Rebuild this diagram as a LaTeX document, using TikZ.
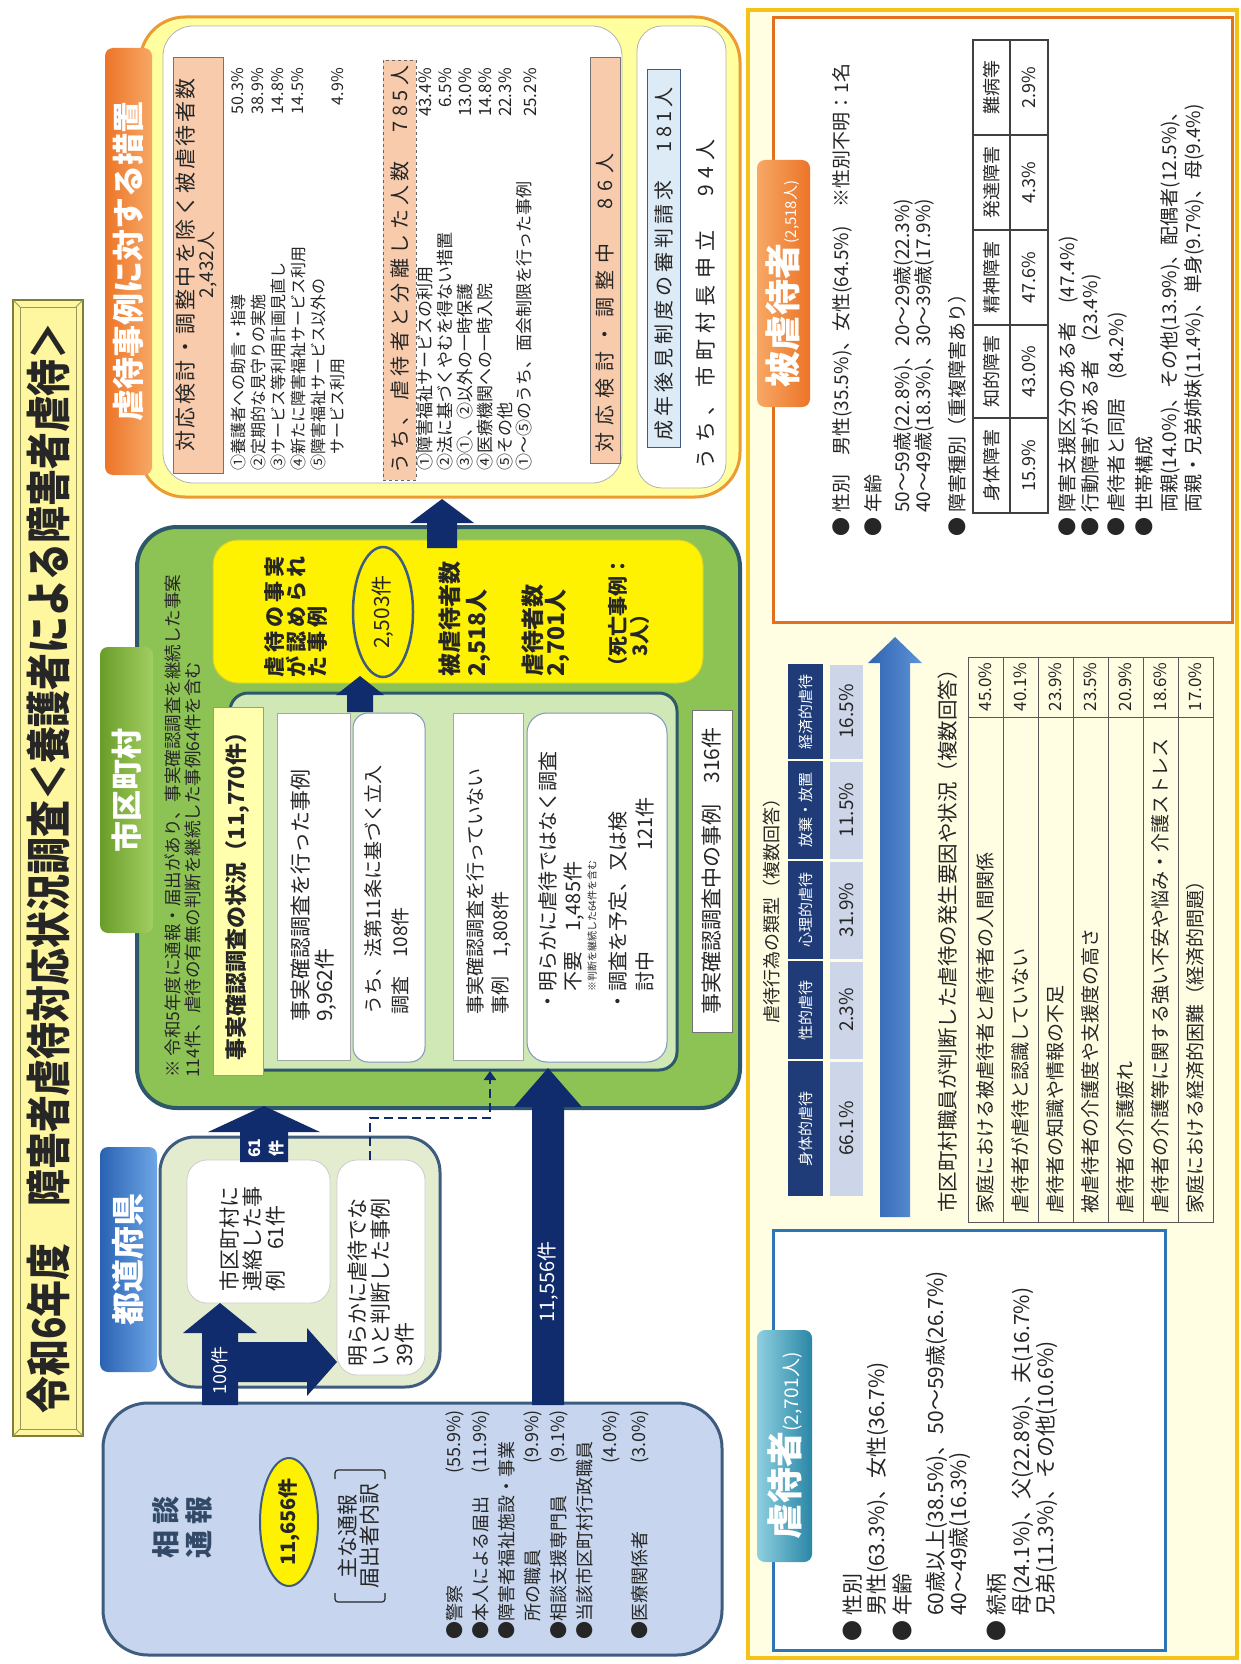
\documentclass[tikz,border=0pt]{standalone}
\usepackage{fontspec}
\setmainfont{Noto Sans CJK JP}
\newfontfamily\cond{Noto Sans CJK JP}[FakeStretch=0.82]
\usetikzlibrary{shapes.geometric,arrows.meta}
\newcommand\fsz[2]{\fontsize{#1}{#2}\selectfont}
\newcommand\lsp[1]{\addfontfeatures{LetterSpace=#1}}
\newcommand\bul{●\hspace{5pt}}
\lineskiplimit=-100pt
\definecolor{ttlfill}{HTML}{FFF6A0}
\definecolor{ttlline}{HTML}{7E7E36}
\definecolor{bluefill}{HTML}{C7D6EE}
\definecolor{boxline}{HTML}{3E5C80}
\definecolor{preffill}{HTML}{E4ECD0}
\definecolor{navy}{HTML}{102C6C}
\definecolor{cityfill}{HTML}{8DC354}
\definecolor{cityline}{HTML}{2D586C}
\definecolor{panelfill}{HTML}{D0E7B6}
\definecolor{salmon}{HTML}{F8CBAD}
\definecolor{lightblue}{HTML}{DDEBF7}
\definecolor{sochiline}{HTML}{EB9B30}
\definecolor{sochifill}{HTML}{FFFFA0}
\definecolor{rpfill}{HTML}{FFFDE2}
\definecolor{rpline}{HTML}{F5C21A}
\definecolor{hiline}{HTML}{E3701E}
\definecolor{gyline}{HTML}{2E75B6}
\definecolor{thead}{HTML}{1F3C78}
\definecolor{tdata}{HTML}{CDD5E8}
\definecolor{txt}{HTML}{262626}
\definecolor{wbline}{HTML}{8095C0}
\definecolor{orL}{HTML}{EC7428}
\definecolor{orR}{HTML}{F7A865}
\definecolor{blL}{HTML}{2A62B3}
\definecolor{blR}{HTML}{6EA6E6}
\definecolor{grL}{HTML}{6A9C2A}
\definecolor{grR}{HTML}{A2CF62}
\definecolor{tlL}{HTML}{8ED0E0}
\definecolor{tlR}{HTML}{2A86A6}
\definecolor{arL}{HTML}{2F63B0}
\definecolor{arR}{HTML}{5E93D8}
\definecolor{jlfill}{HTML}{FFFFAE}
\definecolor{ybline}{HTML}{D0D030}
\newcommand\mybox[6]{%
  \pgfmathsetmacro\mbw{#5-(#3)}\pgfmathsetmacro\mbh{#6-(#4)}%
  \node[#1,minimum width=\mbw pt,minimum height=\mbh pt,inner sep=0pt,outer sep=0pt] (#2) at ({(#3+#5)/2},{(#4+#6)/2}) {};}
\begin{document}
\begin{tikzpicture}[x=1pt,y=-1pt,
  every node/.style={text=txt},
  rt/.style={rotate=90,inner sep=0pt},
  wb/.style={rt,anchor=west},
  eb/.style={rt,anchor=east},
  sl/.style={font=\fsz{18}{18}},
  lone/.style={font=\fsz{16}{16}},
  ltwo/.style={font=\fsz{17}{17}},
  hb/.style={font=\fsz{19}{19}},
  gb/.style={font=\fsz{21}{21}},
  ft/.style={font=\fsz{19}{19}}]
\useasboundingbox (0,0) rectangle (1241,1664);
\fill[white] (0,0) rectangle (1241,1664);

% ---------------- title
\mybox{fill=ttlfill,draw=ttlline,line width=2pt}{titlebox}{13}{300}{83}{1436}
\draw[ttlline!80,line width=1pt] (20,307) rectangle (76,1429);
\draw[ttlline!80,line width=0.8pt] (13,300)--(20,307) (83,300)--(76,307) (13,1436)--(20,1429) (83,1436)--(76,1429);
\node[rt,font=\cond\bfseries\fsz{45}{45}] (title) at (48,868) {令和6年度　障害者虐待対応状況調査＜養護者による障害者虐待＞};

% ---------------- right panel
\mybox{fill=rpfill,draw=rpline,line width=4pt}{rpanel}{748}{10}{1237}{1658}

% ---------------- measures frame
\mybox{fill=sochifill,draw=sochiline,line width=3pt,rounded corners=45pt}{sochi}{140}{17}{740}{497}
\mybox{fill=white,draw=black!30,line width=0.8pt,rounded corners=30pt}{sochiA}{163}{26}{622}{483}
\mybox{fill=white,draw=black!30,line width=0.8pt,rounded corners=25pt}{sochiB}{637}{26}{726}{488}
\mybox{left color=orL,right color=orR,rounded corners=8pt}{sochilbl}{105}{48}{152}{475}
\node[rt,text=white,font=\bfseries\fsz{32}{32}] (sochitxt) at (sochilbl) {虐待事例に対する措置};

\mybox{fill=salmon,draw=black!55,line width=0.8pt}{hdr1}{173}{57}{223}{473}
\node[rt,font=\fsz{21}{21}\lsp{12}] (hdr1a) at (186,265) {対応検討・調整中を除く被虐待者数};
\node[rt,font=\fsz{19}{19}] (hdr1b) at (208,265) {2,432人};

\node[wb,lone] (m1) at (238,471) {①養護者への助言・指導};
\node[eb,lone] (p1) at (238,68) {50.3\%};
\node[wb,lone] (m2) at (258,471) {②定期的な見守りの実施};
\node[eb,lone] (p2) at (258,68) {38.9\%};
\node[wb,lone] (m3) at (278,471) {③サービス等利用計画見直し};
\node[eb,lone] (p3) at (278,68) {14.8\%};
\node[wb,lone] (m4) at (298,471) {④新たに障害福祉サービス利用};
\node[eb,lone] (p4) at (298,68) {14.5\%};
\node[wb,lone] (m5) at (318,471) {⑤障害福祉サービス以外の};
\node[wb,lone] (m6) at (338,471) {　サービス利用};
\node[eb,lone] (p6) at (338,68) {4.9\%};

\mybox{fill=salmon,draw=black!60,dashed,line width=0.8pt}{bunri}{383}{60}{416}{480}
\node[wb,font=\fsz{20}{20}\lsp{22}] (bunritxt) at (399.5,474) {うち、虐待者と分離した人数　785人};

\node[wb,ltwo] (n1) at (425,471) {①障害福祉サービスの利用};
\node[eb,ltwo] (q1) at (425,68) {43.4\%};
\node[wb,ltwo] (n2) at (445,471) {②法に基づくやむを得ない措置};
\node[eb,ltwo] (q2) at (445,68) {6.5\%};
\node[wb,ltwo] (n3) at (465,471) {③①、②以外の一時保護};
\node[eb,ltwo] (q3) at (465,68) {13.0\%};
\node[wb,ltwo] (n4) at (485,471) {④医療機関への一時入院};
\node[eb,ltwo] (q4) at (485,68) {14.8\%};
\node[wb,ltwo] (n5) at (505,471) {⑤その他};
\node[eb,ltwo] (q5) at (505,68) {22.3\%};
\node[wb,ltwo] (n6) at (524,471) {①〜⑤のうち、面会制限を行った事例};
\node[eb,ltwo] (q6) at (530,68) {25.2\%};

\mybox{fill=salmon,draw=black!55,line width=0.8pt}{chosei}{590}{57}{620}{463}
\node[wb,font=\fsz{20}{20}\lsp{35}] (choseitxt) at (605,453) {対応検討・調整中　86人};

\mybox{fill=lightblue,draw=boxline,line width=1pt}{kouken}{647}{70}{680}{447}
\node[wb,font=\fsz{20}{20}\lsp{20}] (koukentxt) at (663.5,441) {成年後見制度の審判請求　181人};
\node[wb,font=\fsz{21}{21}\lsp{30}] (moushitate) at (705,470) {うち、市町村長申立　94人};

% ---------------- municipality box
\mybox{fill=cityfill,draw=cityline,line width=4pt,rounded corners=40pt}{city}{137}{527}{740}{1108}
\mybox{left color=grL,right color=grR,rounded corners=8pt}{citylbl}{100}{647}{153}{933}
\node[rt,text=white,font=\bfseries\fsz{31}{31}] (citytxt) at (citylbl) {市区町村};
\node[rt,anchor=north west,align=left,font=\fsz{17.5}{20}] (note) at (164,1078) {※ 令和5年度に通報・届出があり、事実確認調査を継続した事案\\114件、虐待の有無の判断を継続した事例64件を含む};

\mybox{fill=panelfill,draw=cityline,line width=3pt,rounded corners=18pt}{inner}{230}{693}{677}{1070}
\mybox{fill=jlfill,draw=black!40,line width=0.8pt}{jlbl}{213}{707}{263}{1075}
\node[rt,font=\bfseries\fsz{22}{22}] (jlbltxt) at (238,891) {事実確認調査の状況（11,770件）};

\mybox{fill=white,draw=black!35,line width=0.8pt}{wa}{277}{713}{350}{1060}
\node[wb,gb] (wa1) at (301,1022) {事実確認調査を行った事例};
\node[wb,gb] (wa2) at (326,1022) {9,962件};
\mybox{fill=white,draw=wbline,line width=1pt,rounded corners=15pt}{wbx}{353}{713}{425}{1062}
\node[wb,font=\fsz{19}{19}] (wb1) at (373,1015) {うち、法第11条に基づく立入};
\node[wb,font=\fsz{19}{19}] (wb2) at (400,1015) {調査　108件};
\mybox{fill=white,draw=black!35,line width=0.8pt}{wc}{453}{713}{523}{1060}
\node[wb,font=\fsz{19}{19}] (wc1) at (475,1015) {事実確認調査を行っていない};
\node[wb,font=\fsz{19}{19}] (wc2) at (501,1015) {事例　1,808件};
\mybox{fill=white,draw=wbline,line width=1pt,rounded corners=20pt}{wd}{527}{713}{667}{1062}
\node[wb,font=\fsz{20}{20}] (wd1) at (548,1012) {・明らかに虐待ではなく調査};
\node[wb,font=\fsz{20}{20}] (wd2) at (574,1012) {　不要　1,485件};
\node[wb,font=\fsz{10}{10}] (wd3) at (592,1012) {　　※判断を継続した64件を含む};
\node[wb,font=\fsz{20}{20}] (wd4) at (618,1012) {・調査を予定、又は検};
\node[wb,font=\fsz{20}{20}] (wd5) at (645,1012) {　討中};
\node[eb,font=\fsz{20}{20}] (wd6) at (645,797) {121件};
\mybox{fill=white,draw=black!55,line width=0.8pt}{we}{692}{710}{732}{1032}
\node[rt,font=\fsz{21}{21}] (wetxt) at (712,871) {事実確認調査中の事例　316件};

\mybox{fill=yellow,draw=ybline,line width=1pt,rounded corners=25pt}{ybox}{213}{540}{703}{683}
\node[rt,anchor=north west,align=left,font=\bfseries\fsz{21}{21.5}\lsp{20}] (yb1) at (264.5,678) {虐待の事実\\が認められ\\た事例};
\node[ellipse,rt,draw=boxline,line width=2.5pt,fill=yellow,minimum width=130pt,minimum height=60pt,font=\fsz{21}{21}] (e2503) at (383,612) {2,503件};
\node[rt,anchor=north west,align=left,font=\bfseries\fsz{23}{27}] (yb2) at (438.5,677) {被虐待者数\\2,518人};
\node[rt,anchor=north west,align=left,font=\bfseries\fsz{23}{23}] (yb3) at (521.5,677) {虐待者数\\2,701人};
\node[rt,anchor=north west,align=left,font=\bfseries\fsz{20}{22}] (yb4) at (608,677) {（死亡事例：\\　3人）};

% ---------------- prefecture box
\mybox{fill=preffill,draw=boxline,line width=3pt,rounded corners=35pt}{pref}{160}{1137}{440}{1387}
\mybox{left color=blL,right color=blR,rounded corners=8pt}{preflbl}{100}{1147}{157}{1372}
\node[rt,text=white,font=\bfseries\fsz{33}{33}] (preftxt) at (preflbl) {都道府県};
\mybox{fill=white,draw=black!20,line width=0.8pt,rounded corners=20pt}{prefA}{187}{1160}{330}{1303}
\node[rt,anchor=north west,align=left,font=\fsz{21}{23}] (prefAt) at (220,1292) {市区町村に\\連絡した事\\例　61件};
\mybox{fill=white,draw=black!20,line width=0.8pt,rounded corners=20pt}{prefB}{337}{1160}{425}{1375}
\node[rt,anchor=north west,align=left,font=\fsz{21}{23.5}] (prefBt) at (347.5,1367) {明らかに虐待でな\\いと判断した事例\\39件};

% ---------------- consultation box
\mybox{fill=bluefill,draw=boxline,line width=3pt,rounded corners=45pt}{soudan}{103}{1403}{722}{1655}
\node[rt,text=boxline!80!black,font=\bfseries\fsz{28}{28}] (s1) at (166,1527) {相\hspace{6pt}談};
\node[rt,text=boxline!80!black,font=\bfseries\fsz{28}{28}] (s2) at (199,1527) {通\hspace{6pt}報};
\node[ellipse,rt,draw=boxline,line width=2pt,fill=yellow,minimum width=128pt,minimum height=58pt,font=\bfseries\fsz{20}{20}] (e11656) at (289,1522) {11,656件};
\draw[txt,line width=1.2pt,rounded corners=3pt] (335,1479) -- (335,1470) -- (385,1470) -- (385,1479);
\draw[txt,line width=1.2pt,rounded corners=3pt] (335,1593) -- (335,1602) -- (385,1602) -- (385,1593);
\node[rt,align=center,font=\fsz{21}{22}] (s3) at (359,1536) {主な通報\\届出者内訳};
\node[wb,sl] (r1) at (455,1640) {●警察};
\node[eb,sl] (r1p) at (455,1410) {(55.9\%)};
\node[wb,sl] (r2) at (481,1640) {●本人による届出};
\node[eb,sl] (r2p) at (481,1410) {(11.9\%)};
\node[wb,sl] (r3) at (507,1640) {●障害者福祉施設・事業};
\node[wb,sl] (r4) at (533,1640) {　所の職員};
\node[eb,sl] (r4p) at (533,1410) {(9.9\%)};
\node[wb,sl] (r5) at (559,1640) {●相談支援専門員};
\node[eb,sl] (r5p) at (559,1410) {(9.1\%)};
\node[wb,sl] (r6) at (585,1640) {●当該市区町村行政職員};
\node[eb,sl] (r7p) at (611,1410) {(4.0\%)};
\node[wb,sl] (r8) at (640,1640) {●医療関係者};
\node[eb,sl] (r8p) at (640,1410) {(3.0\%)};

% ---------------- block arrows
\fill[navy] (202,1405) -- (202,1333) -- (183,1333) -- (220,1303) -- (257,1333) -- (238,1333) -- (238,1405) -- cycle;
\fill[navy] (238,1342) -- (307,1342) -- (307,1328) -- (337,1362) -- (307,1396) -- (307,1382) -- (238,1382) -- cycle;
\node[rt,text=white,font=\fsz{18}{18}] (a100) at (220,1370) {100件};
\fill[navy] (240,1162) -- (240,1132) -- (208,1132) -- (264,1106) -- (320,1132) -- (288,1132) -- (288,1162) -- cycle;
\node[rt,text=white,align=center,font=\bfseries\fsz{16}{22}] (a61) at (266,1148) {61\\件};
\draw[navy,line width=2.5pt,dash pattern=on 9pt off 5pt,-{Triangle[width=12pt,length=9pt]}] (prefB.north -| 370,0) -- (370,1118) -- (490,1118) -- (490,1071);
\fill[navy] (532,1405) -- (532,1107) -- (514,1107) -- (548,1068) -- (582,1107) -- (564,1107) -- (564,1405) -- cycle;
\node[rt,text=white,font=\fsz{20}{20}] (a11556) at (548,1282) {11,556件};
\fill[navy] (347,712) -- (347,695) -- (336,695) -- (360,676) -- (384,695) -- (373,695) -- (373,712) -- cycle;
\fill[navy] (427,548) -- (427,523) -- (410,523) -- (442,499) -- (474,523) -- (457,523) -- (457,548) -- cycle;

% ---------------- victims box
\mybox{fill=white,draw=hiline,line width=3pt}{higai}{773}{18}{1232}{622}
\mybox{left color=orR,right color=orL,rounded corners=8pt}{higailbl}{757}{160}{810}{407}
\node[rt,text=white] (higaitxt) at (783,284) {{\bfseries\fsz{36}{36}被虐待者}{\fsz{15}{15}(2,518人)}};
\node[wb,hb] (h1) at (842,537) {\bul 性別　男性(35.5\%)、女性(64.5\%)　※性別不明：1名};
\node[wb,hb] (h2) at (873,537) {\bul 年齢};
\node[wb,hb] (h3) at (903,537) {\hspace{5pt}　50〜59歳(22.8\%)、20〜29歳(22.3\%)};
\node[wb,hb] (h4) at (924,537) {\hspace{5pt}　40〜49歳(18.3\%)、30〜39歳(17.9\%)};
\node[wb,hb] (h5) at (957,537) {\bul 障害種別（重複障害あり）};
\draw[black!75,line width=1.2pt] (973,40) rectangle (1048,513);
\draw[black!75,line width=1.2pt] (973,418) -- (1048,418) (973,325) -- (1048,325) (973,230) -- (1048,230) (973,135) -- (1048,135) (1010,40) -- (1010,513);
\node[rt,font=\fsz{18}{18}] (t1) at (991.5,465.5) {身体障害};
\node[rt,font=\fsz{18}{18}] (t2) at (991.5,371.5) {知的障害};
\node[rt,font=\fsz{18}{18}] (t3) at (991.5,277.5) {精神障害};
\node[rt,font=\fsz{18}{18}] (t4) at (991.5,182.5) {発達障害};
\node[rt,font=\fsz{18}{18}] (t5) at (991.5,87.5) {難病等};
\node[rt,font=\fsz{18}{18}] (v1) at (1029,465.5) {15.9\%};
\node[rt,font=\fsz{18}{18}] (v2) at (1029,371.5) {43.0\%};
\node[rt,font=\fsz{18}{18}] (v3) at (1029,277.5) {47.6\%};
\node[rt,font=\fsz{18}{18}] (v4) at (1029,182.5) {4.3\%};
\node[rt,font=\fsz{18}{18}] (v5) at (1029,87.5) {2.9\%};
\node[wb,hb] (h6) at (1068,537) {\bul 障害支援区分のある者　(47.4\%)};
\node[wb,hb] (h7) at (1091,537) {\bul 行動障害がある者　(23.4\%)};
\node[wb,hb] (h8) at (1117,537) {\bul 虐待者と同居　(84.2\%)};
\node[wb,hb] (h9) at (1144,537) {\bul 世帯構成};
\node[wb,hb] (h10) at (1170,537) {\hspace{5pt}　両親(14.0\%)、その他(13.9\%)、配偶者(12.5\%)、};
\node[wb,hb] (h11) at (1194,537) {\hspace{5pt}　両親・兄弟姉妹(11.4\%)、単身(9.7\%)、母(9.4\%)};

% ---------------- types of abuse
\node[rt,font=\fsz{18}{18}] (typettl) at (772,906) {虐待行為の類型（複数回答）};
\foreach \ya/\yb/\hd/\vl [count=\i] in {663/760/経済的虐待/16.5, 760/860/放棄・放置/11.5, 860/960/心理的虐待/31.9, 960/1060/性的虐待/2.3, 1060/1197/身体的虐待/66.1}{
  \fill[thead] (788,\ya+1) rectangle (823,\yb-1);
  \fill[tdata] (830,\ya+1.5) rectangle (863,\yb-1.5);
  \node[rt,text=white,font=\fsz{15}{15}] (th\i) at (805.5,{(\ya+\yb)/2}) {\hd};
  \node[rt,font=\fsz{19}{19}] (td\i) at (846.5,{(\ya+\yb)/2}) {\vl\%};
}
\shade[left color=arL,right color=arR] (880,1217) -- (880,663) -- (868,663) -- (895,637) -- (922,663) -- (910,663) -- (910,1217) -- cycle;
\coordinate (bigarrowtip) at (895,637);

% ---------------- factors
\node[wb,font=\fsz{20.5}{20.5}] (facttl) at (948,1213) {市区町村職員が判断した虐待の発生要因や状況（複数回答）};
\draw[black!65,line width=1pt] (968,657) rectangle (1213,1222);
\foreach \xx in {1003,1038,1073,1108,1143,1178}{\draw[black!65,line width=1pt] (\xx,657) -- (\xx,1222);}
\draw[black!65,line width=1pt] (968,717) -- (1213,717);
\node[wb,ft] (f1) at (985.5,1214) {家庭における被虐待者と虐待者の人間関係};
\node[rt,font=\fsz{17}{17}] (g1) at (985.5,687) {45.0\%};
\node[wb,ft] (f2) at (1020.5,1214) {虐待者が虐待と認識していない};
\node[rt,font=\fsz{17}{17}] (g2) at (1020.5,687) {40.1\%};
\node[wb,ft] (f3) at (1055.5,1214) {虐待者の知識や情報の不足};
\node[rt,font=\fsz{17}{17}] (g3) at (1055.5,687) {23.9\%};
\node[wb,ft] (f4) at (1090.5,1214) {被虐待者の介護度や支援度の高さ};
\node[rt,font=\fsz{17}{17}] (g4) at (1090.5,687) {23.5\%};
\node[wb,ft] (f5) at (1125.5,1214) {虐待者の介護疲れ};
\node[rt,font=\fsz{17}{17}] (g5) at (1125.5,687) {20.9\%};
\node[wb,ft] (f6) at (1160.5,1214) {虐待者の介護等に関する強い不安や悩み・介護ストレス};
\node[rt,font=\fsz{17}{17}] (g6) at (1160.5,687) {18.6\%};
\node[wb,ft] (f7) at (1195.5,1214) {家庭における経済的困難（経済的問題）};
\node[rt,font=\fsz{17}{17}] (g7) at (1195.5,687) {17.0\%};

% ---------------- abusers box
\mybox{fill=white,draw=gyline,line width=3pt}{gyaku}{773}{1230}{1165}{1650}
\mybox{left color=tlL,right color=tlR,rounded corners=8pt}{gyakulbl}{757}{1330}{812}{1562}
\node[rt,text=white] (gyakutxt) at (785,1446) {{\bfseries\fsz{36}{36}虐待者}{\fsz{19}{19}(2,701人)}};
\node[wb,gb] (k1) at (853,1642) {\bul 性別};
\node[wb,gb] (k2) at (878,1642) {\hspace{5pt}　男性(63.3\%)、女性(36.7\%)};
\node[wb,gb] (k3) at (902,1642) {\bul 年齢};
\node[wb,gb] (k4) at (937,1642) {\hspace{5pt}　60歳以上(38.5\%)、50〜59歳(26.7\%)};
\node[wb,gb] (k5) at (960,1642) {\hspace{5pt}　40〜49歳(16.3\%)};
\node[wb,gb] (k6) at (997,1642) {\bul 続柄};
\node[wb,gb] (k7) at (1023,1642) {\hspace{5pt}　母(24.1\%)、父(22.8\%)、夫(16.7\%)};
\node[wb,gb] (k8) at (1047,1642) {\hspace{5pt}　兄弟(11.3\%)、その他(10.6\%)};
\end{tikzpicture}
\end{document}
